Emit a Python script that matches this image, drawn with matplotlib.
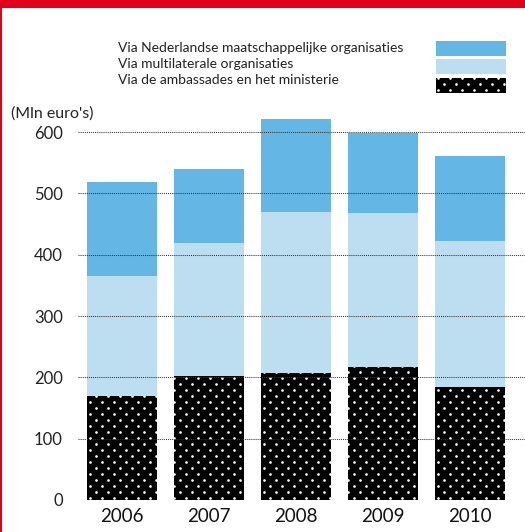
import matplotlib
matplotlib.use("Agg")
import matplotlib.pyplot as plt
import numpy as np
from matplotlib.patches import Rectangle
from matplotlib.lines import Line2D

plt.rcParams['font.family'] = ['Lato', 'DejaVu Sans']

years = ['2006', '2007', '2008', '2009', '2010']
embassy = [170, 203, 207, 217, 185]
multilateral = [195, 216, 263, 251, 237]
ngo = [154, 121, 151, 130, 139]
yticks = [0, 100, 200, 300, 400, 500, 600]
labels = ['Via Nederlandse maatschappelijke organisaties',
          'Via multilaterale organisaties',
          'Via de ambassades en het ministerie']

c_dark = '#64B7E4'
c_light = '#BDDDF1'
c_red = '#E2001A'

W, H = 525, 532
fig = plt.figure(figsize=(W / 100, H / 100), dpi=100)

ax_left, ax_right = 78, 525
ax_bottom_px, ax_top_px = 500, 107.5
ax = fig.add_axes([ax_left / W, (H - ax_bottom_px) / H,
                   (ax_right - ax_left) / W, (ax_bottom_px - ax_top_px) / H])

# dotted texture (white dots on black), staggered grid in pixel space
gx, gy = [], []
for r, py in enumerate(np.arange(0, H + 6, 6.0)):
    off = 6.0 if r % 2 else 0.0
    for px in np.arange(off, W + 12, 12.0):
        gx.append(px / W)
        gy.append(1 - py / H)


def add_dots(parent, clip_patch):
    ln = Line2D(gx, gy, transform=fig.transFigure, marker='o', linestyle='none',
                markersize=1.9, markerfacecolor='white', markeredgewidth=0,
                zorder=2.5)
    parent.add_artist(ln)
    ln.set_clip_path(clip_patch)


x = list(range(len(years)))
bw = 0.805
bars0 = ax.bar(x, embassy, width=bw, color='black', linewidth=0, zorder=2)
ax.bar(x, multilateral, width=bw, bottom=embassy, color=c_light, linewidth=0, zorder=2)
bot2 = [a + b for a, b in zip(embassy, multilateral)]
ax.bar(x, ngo, width=bw, bottom=bot2, color=c_dark, linewidth=0, zorder=2)
for p in bars0.patches:
    add_dots(ax, p)

ax.set_xlim(-0.506, 4.63)
ax.set_ylim(0, 640)
for v in yticks:
    ax.axhline(v, color='#777777' if v == 0 else '#333333', linestyle=(0, (1, 1)),
               linewidth=0.75, zorder=3)

ax.set_yticks(yticks)
ax.set_yticklabels([str(v) for v in yticks], fontsize=12, color='#222222')
ax.tick_params(axis='y', length=0, pad=11)
ax.set_xticks(x)
ax.set_xticklabels(years, fontsize=13.5, color='#111111')
ax.tick_params(axis='x', length=0, pad=6)
for s in ax.spines.values():
    s.set_visible(False)

fig.text(11 / W, 1 - 114 / H, "(Mln euro's)", fontsize=11.5, color='#222222',
         va='center', ha='left')

# legend
ys = [48, 64, 80]
boxes = [(41, 56), (59, 74), (78, 93)]
colors = [c_dark, c_light, 'black']
for lab, yy, (t, b), col in zip(labels, ys, boxes, colors):
    fig.text(118 / W, 1 - yy / H, lab, fontsize=10, color='#222222',
             va='center', ha='left')
    rect = Rectangle((436 / W, 1 - b / H), 70 / W, (b - t) / H,
                     transform=fig.transFigure, figure=fig, facecolor=col,
                     linewidth=0)
    fig.patches.append(rect)
    if col == 'black':
        add_dots(fig, rect)

# red frame
fig.patches.append(Rectangle((0, 1 - 8 / H), 1, 8 / H, transform=fig.transFigure,
                             figure=fig, facecolor=c_red, linewidth=0))
fig.patches.append(Rectangle((0, 0), 1.5 / W, 1, transform=fig.transFigure,
                             figure=fig, facecolor=c_red, linewidth=0))

fig.savefig('out.png', dpi=100)
